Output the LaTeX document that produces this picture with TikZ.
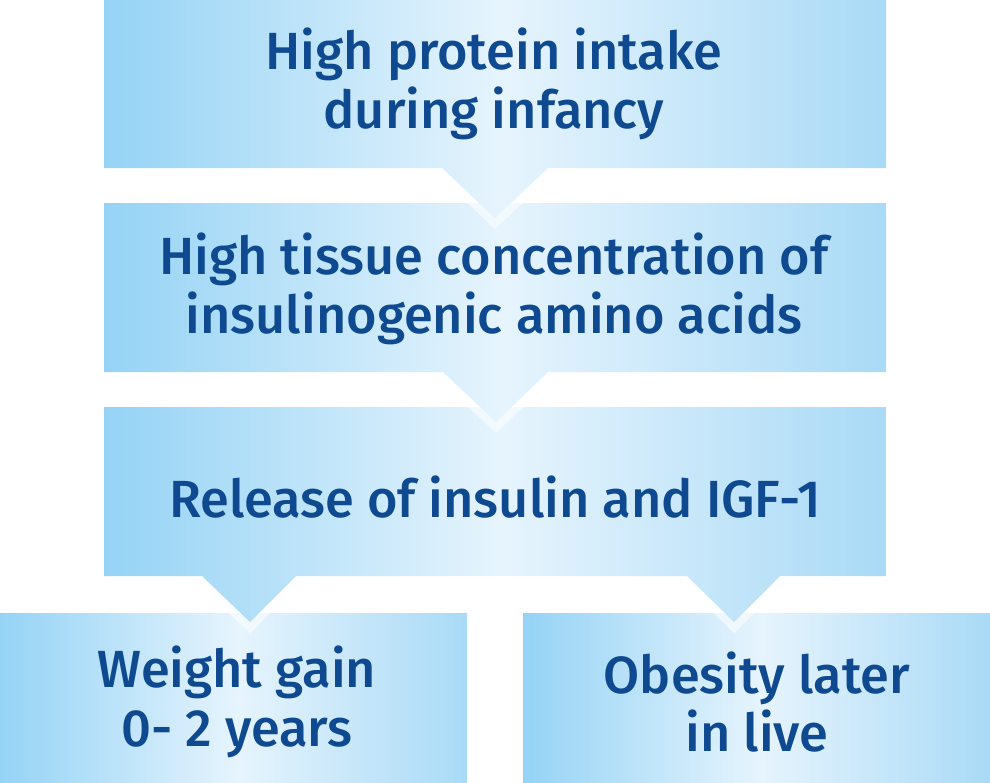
\documentclass[tikz,border=0pt]{standalone}
\usepackage{fontspec}
\setmainfont{Fira Sans Medium}
\definecolor{cL}{HTML}{95D3F5}
\definecolor{cM}{HTML}{E6F4FD}
\definecolor{cR}{HTML}{A9DAF6}
\definecolor{txt}{HTML}{0F4A90}
\pgfdeclarehorizontalshading{boxshade}{100bp}{color(0bp)=(cL); color(25bp)=(cL); color(50.5bp)=(cM); color(75bp)=(cR); color(100bp)=(cR)}
\begin{document}
\begin{tikzpicture}[x=1pt,y=-1pt,
  txtstyle/.style={font=\fontsize{52.3}{58.5}\selectfont, text=txt, align=center, inner sep=0pt},
  panel/.style={shading=boxshade},
  halo/.style={draw=white, draw opacity=0.55, line width=16pt, line join=miter}]
\useasboundingbox (0,0) rectangle (990,782);
% bottom boxes
\shade[panel] (0,613) rectangle (467,782);
\shade[panel] (523,613) rectangle (990,782);
% box 3 with two pointers
\draw[halo] (202,576) -- (250,622) -- (296,576);
\draw[halo] (687,576) -- (734,622) -- (780,576);
\shade[panel] (104,407) -- (886,407) -- (886,576) -- (780,576) -- (734,622) -- (687,576)
  -- (296,576) -- (250,622) -- (202,576) -- (104,576) -- cycle;
% box 2
\draw[halo] (443,372) -- (496,422) -- (548,372);
\shade[panel] (104,203) -- (886,203) -- (886,372) -- (548,372) -- (496,422) -- (443,372)
  -- (104,372) -- cycle;
% box 1
\draw[halo] (442,168) -- (495,218) -- (548,168);
\shade[panel] (104,0) -- (886,0) -- (886,168) -- (548,168) -- (495,218) -- (442,168)
  -- (104,168) -- cycle;
% texts
\node[txtstyle] (t1) at (494,84) {High protein intake\\during infancy};
\node[txtstyle] (t2) at (494,289) {High tissue concentration of\\insulinogenic amino acids};
\node[txtstyle] (t3) at (495,497) {Release of insulin and IGF-1};
\node[txtstyle] (t4) at (237,702) {Weight gain\\0- 2 years};
\node[txtstyle] (t5) at (757,702) {Obesity later\\in live};
\end{tikzpicture}
\end{document}
